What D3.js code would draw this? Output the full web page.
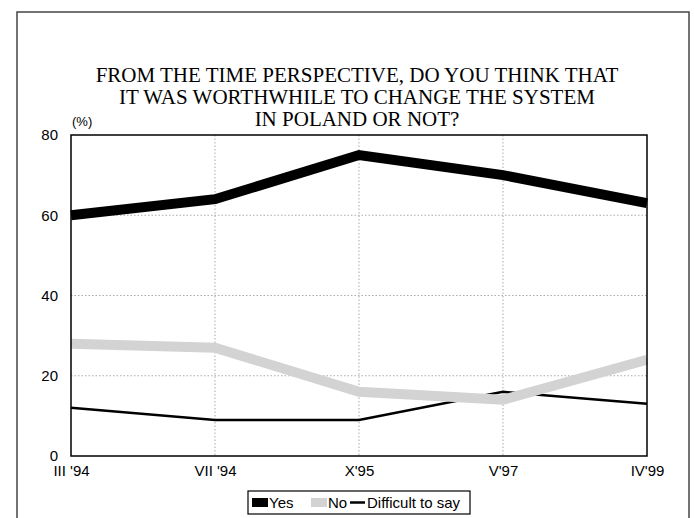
<!DOCTYPE html>
<html>
<head>
<meta charset="utf-8">
<script src="https://cdn.jsdelivr.net/npm/d3@7"></script>
<style>
  html, body { margin: 0; padding: 0; background: #fff; }
  svg { display: block; }
</style>
</head>
<body>
<svg id="chart" width="695" height="518"></svg>
<script>
// Survey waves and answer shares (%)
const periods = ["III '94", "VII '94", "X'95", "V'97", "IV'99"];
const yesValues = [60, 64, 75, 70, 63];
const noValues = [28, 27, 16, 14, 24];
const hardValues = [12, 9, 9, 16, 13];
const yTicks = [0, 20, 40, 60, 80];
const titleLines = [
  "FROM THE TIME PERSPECTIVE, DO YOU THINK THAT",
  "IT WAS WORTHWHILE TO CHANGE THE SYSTEM",
  "IN POLAND OR NOT?"
];

const series = [
  { name: "Difficult to say", values: hardValues, color: "#000", width: 2.5 },
  { name: "No", values: noValues, color: "#d3d3d3", width: 10 },
  { name: "Yes", values: yesValues, color: "#000", width: 10 }
];

const svg = d3.select("#chart");
const sans = "'Liberation Sans', Arial, sans-serif";
const serif = "'Liberation Serif', 'Times New Roman', serif";

// Outer frame
svg.append("rect")
  .attr("x", 17).attr("y", 12)
  .attr("width", 672).attr("height", 520)
  .attr("fill", "none").attr("stroke", "#444").attr("stroke-width", 1.5);

// Title
svg.append("g").selectAll("text").data(titleLines).join("text")
  .attr("x", 357).attr("y", (d, i) => 82 + i * 22)
  .attr("text-anchor", "middle")
  .attr("font-family", serif).attr("font-size", 21)
  .attr("fill", "#000")
  .text(d => d);

const plot = { left: 71, right: 647, top: 135, bottom: 456 };

const x = d3.scalePoint().domain(periods).range([plot.left, plot.right]);
const y = d3.scaleLinear().domain([0, 80]).range([plot.bottom, plot.top]);

// Grid lines
const grid = svg.append("g");
grid.selectAll("line.h").data(yTicks.filter(t => t > 0 && t < 80)).join("line")
  .attr("x1", plot.left).attr("x2", plot.right)
  .attr("y1", d => y(d)).attr("y2", d => y(d))
  .attr("stroke", "#aaa").attr("stroke-width", 1).attr("stroke-dasharray", "1.5,2");
grid.selectAll("line.v").data(periods.slice(1, -1)).join("line")
  .attr("y1", plot.top).attr("y2", plot.bottom)
  .attr("x1", d => x(d)).attr("x2", d => x(d))
  .attr("stroke", "#aaa").attr("stroke-width", 1).attr("stroke-dasharray", "1.5,2");

// Y axis labels
const yAxis = svg.append("g")
  .attr("transform", `translate(${plot.left},0)`)
  .call(d3.axisLeft(y).tickValues(yTicks).tickSize(0).tickPadding(13));
yAxis.select(".domain").remove();
yAxis.selectAll("text")
  .attr("font-family", sans).attr("font-size", 15).attr("fill", "#000");

// X axis labels
const xAxis = svg.append("g")
  .attr("transform", `translate(0,${plot.bottom})`)
  .call(d3.axisBottom(x).tickSize(0).tickPadding(9));
xAxis.select(".domain").remove();
xAxis.selectAll("text")
  .attr("font-family", sans).attr("font-size", 15).attr("fill", "#000");

// Unit label
svg.append("text")
  .attr("x", 72).attr("y", 126)
  .attr("font-family", sans).attr("font-size", 13)
  .text("(%)");

// Lines
const line = d3.line().x((d, i) => x(periods[i])).y(d => y(d));
svg.append("g").selectAll("path").data(series).join("path")
  .attr("d", d => line(d.values))
  .attr("fill", "none")
  .attr("stroke", d => d.color)
  .attr("stroke-width", d => d.width)
  .attr("stroke-linejoin", "miter");

// Plot frame
svg.append("rect")
  .attr("x", plot.left).attr("y", plot.top)
  .attr("width", plot.right - plot.left).attr("height", plot.bottom - plot.top)
  .attr("fill", "none").attr("stroke", "#000").attr("stroke-width", 1.5);

// Legend
const legend = svg.append("g");
legend.append("rect")
  .attr("x", 248).attr("y", 491).attr("width", 222).attr("height", 23)
  .attr("fill", "#fff").attr("stroke", "#000").attr("stroke-width", 1.2);
const legendItems = [
  { name: "Yes", color: "#000", kind: "box", x: 252 },
  { name: "No", color: "#d3d3d3", kind: "box", x: 311 },
  { name: "Difficult to say", color: "#000", kind: "line", x: 350 }
];
legendItems.forEach(it => {
  if (it.kind === "box") {
    legend.append("rect").attr("x", it.x).attr("y", 498)
      .attr("width", 16).attr("height", 9).attr("fill", it.color);
  } else {
    legend.append("line").attr("x1", it.x).attr("x2", it.x + 15)
      .attr("y1", 502.5).attr("y2", 502.5)
      .attr("stroke", it.color).attr("stroke-width", 2.5);
  }
  legend.append("text")
    .attr("x", it.x + 17).attr("y", 508)
    .attr("font-family", sans).attr("font-size", 15)
    .text(it.name);
});
</script>
</body>
</html>
